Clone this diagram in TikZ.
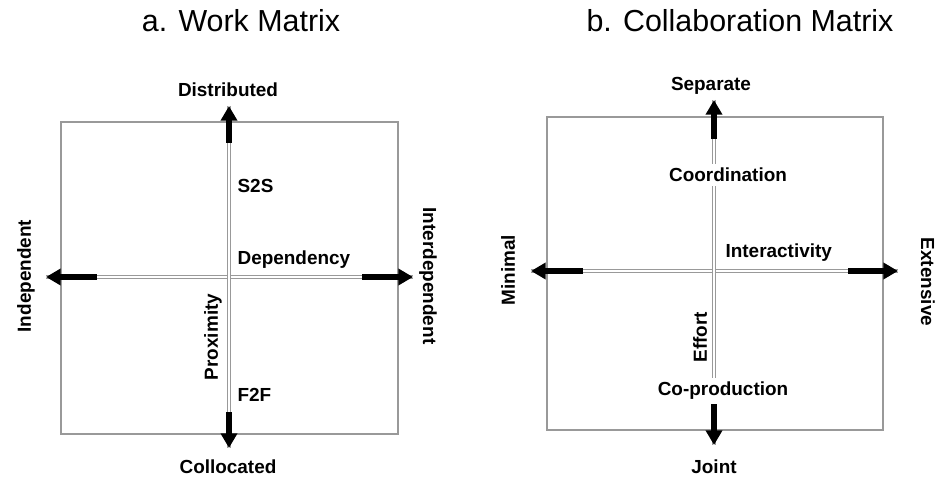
\documentclass[tikz,border=0pt]{standalone}
\usepackage{fontspec}
\setmainfont{Liberation Sans}
\usetikzlibrary{arrows.meta}
\tikzset{
  frame/.style={draw=gray!80, line width=1.1pt},
  axis/.style={draw=gray!80, double=white, double distance=1.1pt, line width=0.9pt},
  axisend/.style={line width=4.1pt, -{Triangle[width=12pt,length=11pt]}},
  lbl/.style={font=\bfseries\fontsize{14.2}{16}\selectfont, inner sep=1pt},
  cutlbl/.style={lbl, fill=white, inner sep=3pt},
  ttl/.style={font=\fontsize{22.8}{26}\selectfont}
}
\begin{document}
\begin{tikzpicture}[x=0.75pt,y=-0.75pt]
\useasboundingbox (0,0) rectangle (948,484);
	% a. Work Matrix
	\node[ttl] (wtitle) at (241,21) {a. Work Matrix};
	\draw[frame] (61,122) rectangle (398,434);
	\coordinate (wl) at (46,277);
	\coordinate (wr) at (413,277);
	\coordinate (wt) at (229,106);
	\coordinate (wb) at (229,448);
	\coordinate (wl1) at (97,277);
	\coordinate (wr1) at (362,277);
	\coordinate (wt1) at (229,143);
	\coordinate (wb1) at (229,412);
	\draw[axis] (wl) -- (wr);
	\draw[axis] (wt) -- (wb);
	\draw[axisend] (wl1) -- (wl);
	\draw[axisend] (wr1) -- (wr);
	\draw[axisend] (wt1) -- (wt);
	\draw[axisend] (wb1) -- (wb);
	\node[lbl] (dist) at (228,90) {Distributed};
	\node[lbl] (coll) at (228,467) {Collocated};
	\node[lbl,rotate=90] (indep) at (26,276) {Independent};
	\node[lbl,rotate=-90] (interdep) at (428,276) {Interdependent};
	\node[lbl,anchor=west] (s2s) at (236,186) {S2S};
	\node[lbl,anchor=west] (depend) at (236,260) {Dependency};
	\node[lbl,rotate=90] (prox) at (213,337) {Proximity};
	\node[lbl,anchor=west] (f2f) at (236,395) {F2F};
	% b. Collaboration Matrix
	\node[ttl] (ctitle) at (740,21) {b. Collaboration Matrix};
	\draw[frame] (547,117) rectangle (883,430);
	\coordinate (cl) at (531,271);
	\coordinate (cr) at (898,271);
	\coordinate (ct) at (714,100);
	\coordinate (cb) at (714,445);
	\coordinate (cl1) at (583,271);
	\coordinate (cr1) at (848,271);
	\coordinate (ct1) at (714,139);
	\coordinate (cb1) at (714,402);
	\draw[axis] (cl) -- (cr);
	\draw[axis] (ct) -- (cb);
	\draw[axisend] (cl1) -- (cl);
	\draw[axisend] (cr1) -- (cr);
	\draw[axisend] (ct1) -- (ct);
	\draw[axisend] (cb1) -- (cb);
	\node[lbl] (sep) at (711,86) {Separate};
	\node[lbl] (joint) at (714,467) {Joint};
	\node[lbl,rotate=90] (minimal) at (508,270) {Minimal};
	\node[lbl,rotate=-90] (extens) at (928,282) {Extensive};
	\node[cutlbl] (coord) at (728,175) {Coordination};
	\node[lbl,anchor=west] (interact) at (724,253) {Interactivity};
	\node[lbl,rotate=90] (effort) at (700,337) {Effort};
	\node[cutlbl] (coprod) at (723,391) {Co-production};
\end{tikzpicture}
\end{document}
